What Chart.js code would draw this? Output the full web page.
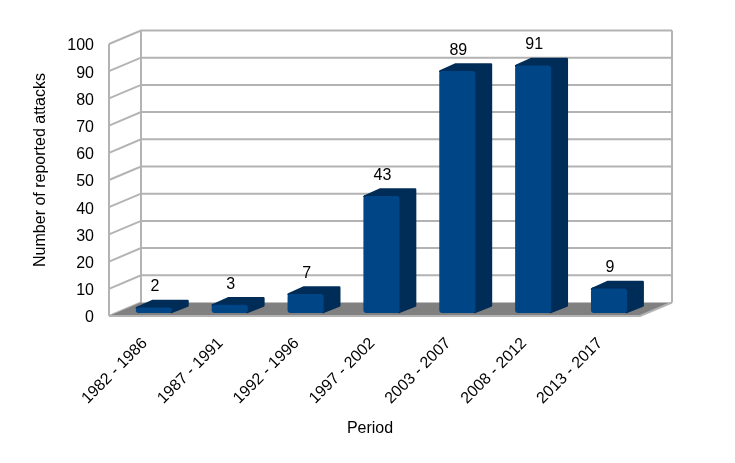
<!DOCTYPE html>
<html>
<head>
<meta charset="utf-8">
<title>Reported attacks by period</title>
<script src="https://cdn.jsdelivr.net/npm/chart.js@4"></script>
<style>
  html, body { margin: 0; padding: 0; background: #fff; }
  #wrap { width: 735px; height: 463px; }
</style>
</head>
<body>
<div id="wrap"><canvas id="attacksChart" width="735" height="463"></canvas></div>
<script>
var periods = ['1982 - 1986','1987 - 1991','1992 - 1996','1997 - 2002','2003 - 2007','2008 - 2012','2013 - 2017'];
var attacks = [2, 3, 7, 43, 89, 91, 9];
var yTicks = [0, 10, 20, 30, 40, 50, 60, 70, 80, 90, 100];
var xTitle = 'Period';
var yTitle = 'Number of reported attacks';

var FONT = '"Liberation Sans", Arial, sans-serif';
var WALL = '#b3b3b3';
var wallDx = 32, wallDy = -13.5;   // depth of the fake 3d box
var barShiftX = 7, barShiftY = -3; // bars stand in the middle of the floor
var barDx = 16.5, barDy = -7.5;

// back wall, side wall and floor, drawn under the bars
var box3d = {
  id: 'box3d',
  beforeDatasetsDraw: function(chart){
    var c = chart.ctx, a = chart.chartArea, y = chart.scales.y;
    c.save();
    c.strokeStyle = WALL;
    c.lineWidth = 2;
    yTicks.forEach(function(v){
      var py = y.getPixelForValue(v);
      c.beginPath();
      c.moveTo(a.left, py);
      c.lineTo(a.left + wallDx, py + wallDy);
      if (v > 0) c.lineTo(a.right + wallDx, py + wallDy);
      c.stroke();
    });
    c.beginPath();
    c.moveTo(a.left, a.top); c.lineTo(a.left, a.bottom);
    c.moveTo(a.left + wallDx, a.top + wallDy); c.lineTo(a.left + wallDx, a.bottom + wallDy);
    c.moveTo(a.right + wallDx, a.top + wallDy); c.lineTo(a.right + wallDx, a.bottom + wallDy);
    c.stroke();
    // floor
    c.fillStyle = '#808080';
    c.beginPath();
    c.moveTo(a.left, a.bottom);
    c.lineTo(a.right, a.bottom);
    c.lineTo(a.right + wallDx, a.bottom + wallDy);
    c.lineTo(a.left + wallDx, a.bottom + wallDy);
    c.closePath();
    c.fill();
    c.beginPath();
    c.moveTo(a.left, a.bottom); c.lineTo(a.right, a.bottom);
    c.lineTo(a.right + wallDx, a.bottom + wallDy);
    c.stroke();
    c.restore();
  },
  beforeDatasetDraw: function(chart, args){
    var c = chart.ctx;
    c.save();
    c.translate(barShiftX, barShiftY);
    // top and side faces behind each bar
    args.meta.data.forEach(function(b){
      var l = b.x - b.width / 2, r = b.x + b.width / 2;
      c.fillStyle = '#002c58';
      c.strokeStyle = '#002c58';
      c.lineWidth = 2.5;
      c.lineJoin = 'round';
      c.beginPath();
      c.moveTo(l + 1, b.y + 0.5);
      c.lineTo(l + barDx, b.y + barDy + 1);
      c.lineTo(r + barDx - 1, b.y + barDy + 1);
      c.lineTo(r + barDx - 1, b.base + barDy);
      c.lineTo(r - 1, b.base - 1);
      c.lineTo(r - 1, b.y + 1);
      c.closePath();
      c.fill();
      c.stroke();
    });
  },
  afterDatasetDraw: function(chart, args){
    var c = chart.ctx;
    c.restore();
    c.save();
    c.fillStyle = '#000';
    c.font = '16px ' + FONT;
    c.textAlign = 'center';
    c.textBaseline = 'middle';
    args.meta.data.forEach(function(b, i){
      c.fillText(String(attacks[i]), b.x + barShiftX + 1, b.y + barShiftY - 20.5);
    });
    // axis titles sit off the plot centre, so they are placed by hand
    c.fillText(xTitle, 370, 429);
    c.translate(41, 170);
    c.rotate(-Math.PI / 2);
    c.fillText(yTitle, 0, 0);
    c.restore();
  }
};

new Chart(document.getElementById('attacksChart'), {
  type: 'bar',
  data: {
    labels: periods,
    datasets: [{
      data: attacks,
      backgroundColor: '#004586',
      borderWidth: 0,
      borderRadius: 3,
      borderSkipped: false,
      barPercentage: 0.477,
      categoryPercentage: 1
    }]
  },
  options: {
    responsive: false,
    animation: false,
    events: [],
    layout: { padding: { top: 44, right: 95, left: 0, bottom: 0 } },
    plugins: { legend: { display: false }, tooltip: { enabled: false } },
    scales: {
      x: {
        grid: { display: false },
        border: { display: false },
        afterFit: function(s){ s.height = 147; },
        ticks: {
          color: '#000', font: { family: FONT, size: 16 },
          minRotation: 45, maxRotation: 45, autoSkip: false, padding: 10,
          labelOffset: -2
        },
        title: { display: false }
      },
      y: {
        min: 0, max: 100,
        grid: { display: false },
        border: { display: false },
        afterFit: function(s){ s.width = 109; },
        afterBuildTicks: function(s){ s.ticks = yTicks.map(function(v){ return { value: v }; }); },
        ticks: {
          color: '#000', font: { family: FONT, size: 16 }, padding: 7,
          labelOffset: 2
        },
        title: { display: false }
      }
    }
  },
  plugins: [box3d]
});
</script>
</body>
</html>
